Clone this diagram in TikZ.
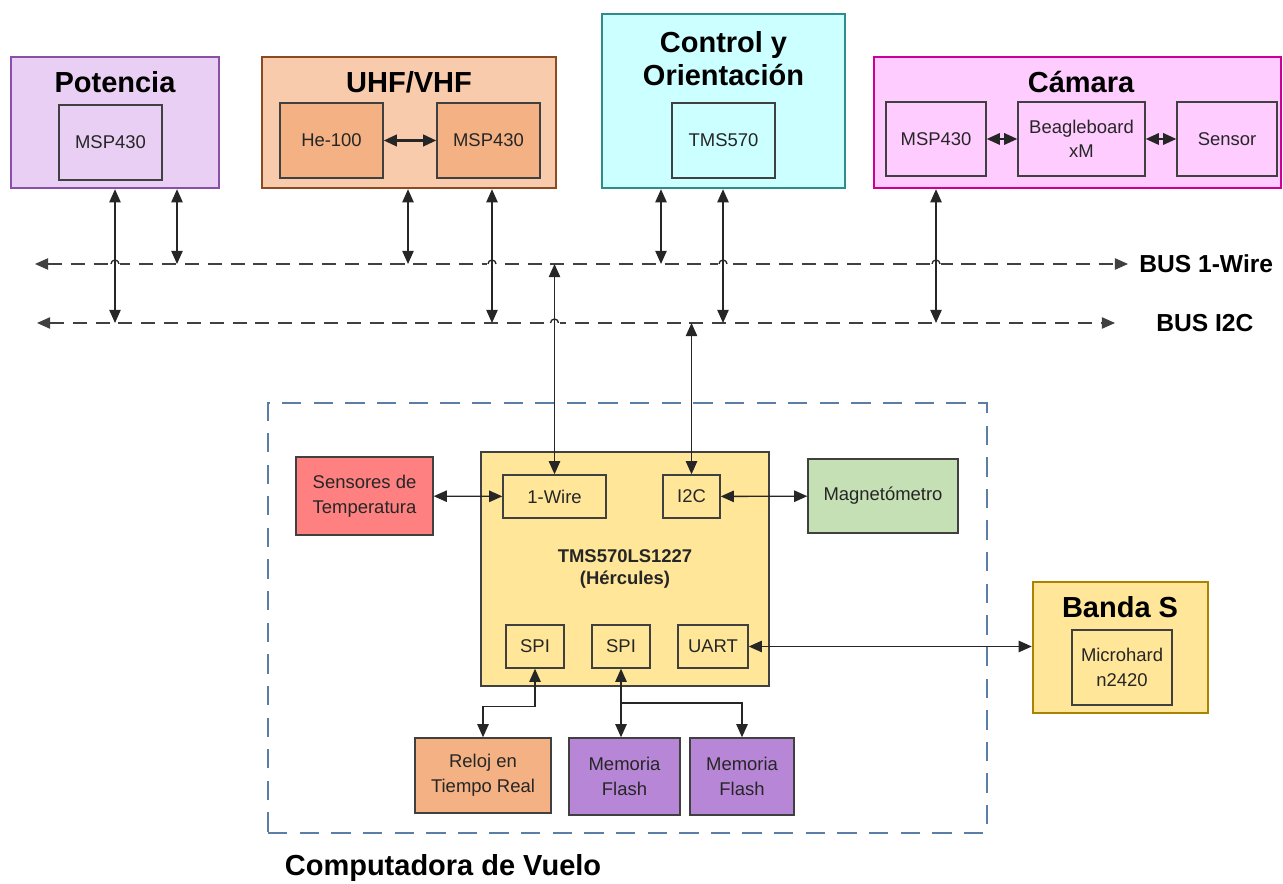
\documentclass[tikz,border=0pt]{standalone}
\usepackage{fontspec}
\setmainfont{Liberation Sans}
\usetikzlibrary{arrows.meta}

\definecolor{potfill}{HTML}{E8CFF3}
\definecolor{potline}{HTML}{8A4FA8}
\definecolor{uhffill}{HTML}{F8CBAD}
\definecolor{uhfline}{HTML}{8B4A22}
\definecolor{uhfin}{HTML}{F4B183}
\definecolor{ctlfill}{HTML}{CCFFFF}
\definecolor{ctlline}{HTML}{2F8C8A}
\definecolor{camfill}{HTML}{FFCCFF}
\definecolor{camline}{HTML}{CC0099}
\definecolor{herfill}{HTML}{FFE699}
\definecolor{banline}{HTML}{A88400}
\definecolor{tmpfill}{HTML}{FF8080}
\definecolor{magfill}{HTML}{C5E0B4}
\definecolor{memfill}{HTML}{B886D6}
\definecolor{frameblue}{HTML}{5A7EA6}

\begin{document}
\begin{tikzpicture}[x=0.02cm, y=0.02cm]
\tikzset{edge/.style = {-, line width=0.75pt, draw=black!85}}
\tikzset{bi/.style = {edge, {Triangle[length=7.5pt,width=6.5pt]}-{Triangle[length=7.5pt,width=6.5pt]}}}
\tikzset{tip/.style = {edge, -{Triangle[length=7.5pt,width=6.5pt]}}}
\tikzset{bus/.style = {line width=0.75pt, draw=black!75, dash pattern=on 8pt off 5pt, {Triangle[length=7.5pt,width=6.5pt]}-{Triangle[length=7.5pt,width=6.5pt]}}}
\tikzset{group/.style = {shape=rectangle, draw, line width=1.4pt, inner sep=0pt}}
\tikzset{block/.style = {shape=rectangle, draw=black!75, line width=0.8pt, align=center, text=black!85, font=\fontsize{10.5}{14}\selectfont, inner sep=2pt}}
\tikzset{title/.style = {font=\bfseries\fontsize{16.5}{18.7}\selectfont, align=center, inner sep=0pt}}
\tikzset{buslbl/.style = {font=\bfseries\fontsize{14}{16}\selectfont, inner sep=0pt, anchor=west}}
\tikzset{frame/.style = {shape=rectangle, draw=frameblue, line width=1.5pt, dash pattern=on 11pt off 7pt}}
\def \hop#1#2{\fill[white] (#1-5,#2-2) rectangle (#1+5,#2+2); \draw[edge] (#1-4,#2) arc[start angle=180, end angle=0, radius=0.08cm];}
\useasboundingbox (0,0) rectangle (1283,884);
% subsistemas
\node[group, fill=potfill, draw=potline, minimum width=4.16cm, minimum height=2.62cm](pot) at (115,761.5) {};
\node[title](potT) at (115,802) {Potencia};
\node[block, fill=potfill, minimum width=2.06cm, minimum height=1.5cm](potmsp) at (110.5,741.5) {MSP430};
\node[group, fill=uhffill, draw=uhfline, minimum width=5.88cm, minimum height=2.62cm](uhf) at (409,761.5) {};
\node[title](uhfT) at (409,802) {UHF/VHF};
\node[block, fill=uhfin, minimum width=2.06cm, minimum height=1.5cm](he) at (331.5,743.5) {He-100};
\node[block, fill=uhfin, minimum width=2.06cm, minimum height=1.5cm](uhfmsp) at (488.5,743.5) {MSP430};
\node[group, fill=ctlfill, draw=ctlline, minimum width=4.86cm, minimum height=3.48cm](ctl) at (723.5,783) {};
\node[title](ctlT) at (723.5,825.5) {Control y\\Orientación};
\node[block, fill=ctlfill, minimum width=2.06cm, minimum height=1.5cm](tms) at (723.5,743.5) {TMS570};
\node[group, fill=camfill, draw=camline, minimum width=8.14cm, minimum height=2.62cm](cam) at (1077.5,761.5) {};
\node[title](camT) at (1081,802) {Cámara};
\node[block, fill=camfill, minimum width=2.0cm, minimum height=1.48cm](cammsp) at (936,745) {MSP430};
\node[block, fill=camfill, minimum width=2.54cm, minimum height=1.48cm](beagle) at (1081.5,745) {Beagleboard\\xM};
\node[block, fill=camfill, minimum width=2.0cm, minimum height=1.48cm](sensor) at (1227,745) {Sensor};
% computadora de vuelo
\node[frame, minimum width=14.38cm, minimum height=8.6cm](fc) at (627.5,266) {};
\node[title](fcT) at (443,16) {Computadora de Vuelo};
\node[block, fill=herfill, minimum width=5.76cm, minimum height=4.68cm, font=\bfseries\fontsize{10.5}{13}\selectfont](her) at (625,315) {TMS570LS1227\\(Hércules)};
\node[block, fill=herfill, minimum width=2.06cm, minimum height=0.86cm](ow) at (554.5,387.5) {1-Wire};
\node[block, fill=herfill, minimum width=1.14cm, minimum height=0.86cm](i2c) at (691.5,387.5) {I2C};
\node[block, fill=herfill, minimum width=1.16cm, minimum height=0.86cm](spiA) at (535,237.5) {SPI};
\node[block, fill=herfill, minimum width=1.16cm, minimum height=0.86cm](spiB) at (621,237.5) {SPI};
\node[block, fill=herfill, minimum width=1.4cm, minimum height=0.86cm](uart) at (713,237.5) {UART};
\node[block, fill=tmpfill, minimum width=2.74cm, minimum height=1.56cm](temp) at (364.5,388) {Sensores de\\Temperatura};
\node[block, fill=magfill, minimum width=3.0cm, minimum height=1.48cm](mag) at (883,388) {Magnetómetro};
\node[block, fill=uhfin, minimum width=2.72cm, minimum height=1.5cm](reloj) at (483,108.5) {Reloj en\\Tiempo Real};
\node[block, fill=memfill, minimum width=2.22cm, minimum height=1.54cm](mem1) at (624.5,107.5) {Memoria\\Flash};
\node[block, fill=memfill, minimum width=2.08cm, minimum height=1.54cm](mem2) at (742,107.5) {Memoria\\Flash};
% banda S
\node[group, fill=herfill, draw=banline, minimum width=3.5cm, minimum height=2.62cm](ban) at (1120.5,236.5) {};
\node[title](banT) at (1120,277) {Banda S};
\node[block, fill=herfill, minimum width=2.0cm, minimum height=1.5cm](micro) at (1122,216.5) {Microhard\\n2420};
% buses
\coordinate (w0) at (35,620);
\coordinate (w1) at (1128,620);
\coordinate (c0) at (37,561);
\coordinate (c1) at (1115,561);
\draw[bus] (w0) to (w1);
\draw[bus] (c0) to (c1);
\node[buslbl](wT) at (1139,620) {BUS 1-Wire};
\node[buslbl](cT) at (1156,561) {BUS I2C};
\hop{115}{620}
\hop{492}{620}
\hop{723}{620}
\hop{936}{620}
\hop{554.5}{561}
\coordinate (pA) at (115,561);
\coordinate (pB) at (177,620);
\coordinate (uA) at (408,620);
\coordinate (uB) at (492,561);
\coordinate (cA) at (661,620);
\coordinate (cB) at (723,561);
\coordinate (kA) at (936,561);
\coordinate (hA) at (554.5,620);
\coordinate (hB) at (691.5,561);
\coordinate (jm) at (621,181);
% conexiones
\draw[bi] (pot.south -| pA) to (pA);
\draw[bi] (pot.south -| pB) to (pB);
\draw[bi] (uhf.south -| uA) to (uA);
\draw[bi] (uhf.south -| uB) to (uB);
\draw[bi] (ctl.south -| cA) to (cA);
\draw[bi] (ctl.south -| cB) to (cB);
\draw[bi] (cam.south -| kA) to (kA);
\draw[bi] (hA) to (ow);
\draw[bi] (hB) to (i2c);
\draw[bi, line width=1.5pt] (he) to (uhfmsp);
\draw[bi, line width=1.2pt] (cammsp) to (beagle);
\draw[bi, line width=1.2pt] (beagle) to (sensor);
\draw[bi] (temp) to (ow);
\draw[bi] (i2c) to (mag);
\draw[bi] (uart.east) to (uart.east -| ban.west);
\draw[bi] (spiA.south) -- ++(0,-38) -| (reloj.north);
\draw[bi] (spiB.south) to (spiB.south |- mem1.north);
\draw[tip] (jm) -| (mem2.north);
\end{tikzpicture}
\end{document}
